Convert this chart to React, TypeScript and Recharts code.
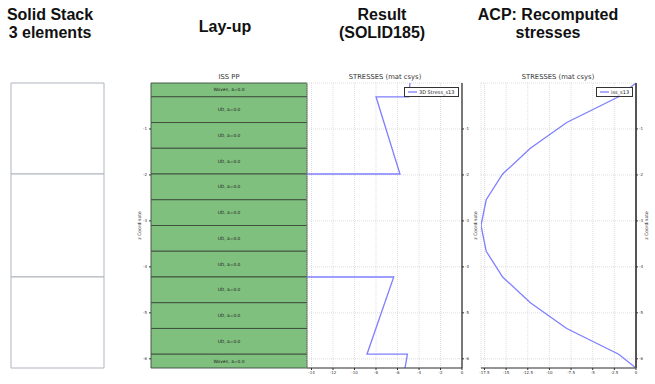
import React from 'react';
import { BarChart, Bar, LineChart, Line, XAxis, YAxis, CartesianGrid, Legend, LabelList } from 'recharts';

// lay-up of the solid stack, top to bottom
const layerNames = [
  'Woven, a=0.0',
  'UD, a=0.0', 'UD, a=0.0', 'UD, a=0.0', 'UD, a=0.0', 'UD, a=0.0',
  'UD, a=0.0', 'UD, a=0.0', 'UD, a=0.0', 'UD, a=0.0', 'UD, a=0.0',
  'Woven, a=0.0',
];
const layerThickness = [0.3, 0.56, 0.56, 0.56, 0.56, 0.56, 0.56, 0.56, 0.56, 0.56, 0.56, 0.3];
const elementThickness = [1.98, 2.24, 1.98];

const zTicks = [-6, -5, -4, -3, -2, -1];
const zDomain = [-6.2, 0];

// SOLID185 result, s13 along z
const solidZ = [0, -0.3, -0.3, -1.98, -1.98, -3.1, -4.22, -4.22, -5.9, -5.9, -6.2];
const solidS13 = [-4.84, -4.95, -8.0, -5.77, -16.8, -18.2, -16.8, -6.35, -8.84, -5.08, -5.3];
const solidTicks = [-14, -12, -10, -8, -6, -4, -2, 0];
const solidDomain = [-14.42, 0];

// ACP recomputed s13 along z
const acpZ = [0, -0.3, -0.86, -1.42, -1.98, -2.54, -3.1, -3.66, -4.22, -4.78, -5.34, -5.9, -6.2];
const acpS13 = [0, -2.0, -8.0, -12.2, -15.4, -17.3, -17.9, -17.3, -15.4, -12.2, -8.0, -2.0, 0];
const acpTicks = [-17.5, -15, -12.5, -10, -7.5, -5, -2.5, 0];
const acpDomain = [-17.9, 0];

const layupRow: Record<string, number | string> = { name: 'layup' };
layerThickness.forEach((t, i) => { layupRow[`l${i}`] = -t; });
const elementRow: Record<string, number | string> = { name: 'elements' };
elementThickness.forEach((t, i) => { elementRow[`e${i}`] = -t; });

const solidData = solidZ.map((z, i) => ({ z, s: solidS13[i] }));
const acpData = acpZ.map((z, i) => ({ z, s: acpS13[i] }));

const LINE = '#7f7fff';
const small = { fontSize: 4, fill: '#333', fontFamily: 'DejaVu Sans' };
const axisTitle = { fontSize: 4.5, fill: '#333', fontFamily: 'DejaVu Sans', textAnchor: 'middle' as const };

const Heading = ({ lines, center, top }: { lines: string[]; center: number; top: number }) => (
  <div style={{
    position: 'absolute', left: center - 100, top, width: 200, textAlign: 'center',
    fontFamily: '"Liberation Sans", Arial, sans-serif', fontWeight: 'bold', fontSize: 16, lineHeight: '18px', color: '#111',
  }}>
    {lines.map(l => <div key={l}>{l}</div>)}
  </div>
);

const PlotTitle = ({ text, center }: { text: string; center: number }) => (
  <div style={{
    position: 'absolute', left: center - 60, top: 72, width: 120, textAlign: 'center',
    fontFamily: '"DejaVu Sans", sans-serif', fontSize: 6.8, lineHeight: '10px', color: '#333',
  }}>{text}</div>
);

const LegendBox = (props: any) => {
  const item = props.payload && props.payload[0];
  return (
    <div style={{
      width: props.boxWidth, height: 10, boxSizing: 'border-box', border: '1px solid #333', background: '#fff',
      display: 'flex', alignItems: 'center', fontFamily: '"DejaVu Sans", sans-serif', fontSize: 5, color: '#222',
    }}>
      <svg width={14} height={4}><line x1={3} x2={12} y1={2} y2={2} stroke={LINE} strokeWidth={1.3} /></svg>
      <span>{item ? item.value : ''}</span>
    </div>
  );
};

type StressProps = {
  data: { z: number; s: number }[];
  name: string;
  domain: number[];
  ticks: number[];
  left: number;
  width: number;
  margin: { top: number; right: number; bottom: number; left: number };
  yWidth: number;
  labelOffset: number;
  legendLeft: number;
  legendWidth: number;
  rightStroke: string;
  rightWidth: number;
  showLeft: boolean;
};

const StressChart = (p: StressProps) => (
  <div style={{ position: 'absolute', left: p.left, top: 60 }}>
    <LineChart width={p.width} height={320} data={p.data} layout="vertical" margin={p.margin}>
      <CartesianGrid stroke="#d0d0d0" strokeDasharray="1 1" strokeWidth={0.7} />
      <XAxis type="number" domain={p.domain} ticks={p.ticks} interval={0} allowDataOverflow height={12}
        tickSize={2} tickMargin={1} tick={small} axisLine={{ stroke: '#333' }} tickLine={{ stroke: '#333' }} />
      <XAxis xAxisId="top" orientation="top" type="number" domain={p.domain} height={0}
        tick={false} tickLine={false} axisLine={{ stroke: '#999' }} />
      {p.showLeft && (
        <YAxis yAxisId="left" orientation="left" type="number" domain={zDomain} width={0}
          tick={false} tickLine={false} axisLine={{ stroke: '#ccc' }} />
      )}
      <YAxis type="number" dataKey="z" orientation="right" domain={zDomain} ticks={zTicks} interval={0} reversed
        allowDataOverflow width={p.yWidth} tickSize={2} tickMargin={1} tick={small}
        axisLine={{ stroke: p.rightStroke, strokeWidth: p.rightWidth }} tickLine={{ stroke: '#333' }}
        label={{ value: 'z Coordinate', angle: -90, position: 'insideRight', offset: p.labelOffset, fill: '#333', style: axisTitle }} />
      <Line dataKey="s" name={p.name} stroke={LINE} strokeWidth={1.3} dot={false} activeDot={false} isAnimationActive={false} />
      <Legend layout="horizontal" verticalAlign="middle" align="center"
        wrapperStyle={{ left: p.legendLeft - p.left, top: 27, width: 'auto', height: 'auto' }}
        content={(props: any) => <LegendBox {...props} boxWidth={p.legendWidth} />} />
    </LineChart>
  </div>
);

export default function App() {
  return (
    <div style={{ position: 'absolute', left: 0, top: 0, width: 655, height: 384, background: '#fff', overflow: 'hidden' }}>
      <Heading lines={['Solid Stack', '3 elements']} center={50} top={6} />
      <Heading lines={['Lay-up']} center={225} top={18} />
      <Heading lines={['Result', '(SOLID185)']} center={382} top={6} />
      <Heading lines={['ACP: Recomputed', 'stresses']} center={548} top={6} />

      {/* solid stack with 3 elements */}
      <div style={{ position: 'absolute', left: 0, top: 60 }}>
        <BarChart width={120} height={320} data={[elementRow]} barCategoryGap={0}
          margin={{ top: 23, right: 16, bottom: 12, left: 11 }}>
          <XAxis dataKey="name" hide />
          <YAxis type="number" domain={zDomain} hide />
          {elementThickness.map((_, i) => (
            <Bar key={i} dataKey={`e${i}`} stackId="e" fill="#fff" stroke="#aeb4bc" strokeWidth={1} isAnimationActive={false} />
          ))}
        </BarChart>
      </div>

      {/* lay-up */}
      <PlotTitle text="ISS PP" center={229} />
      <div style={{ position: 'absolute', left: 120, top: 60 }}>
        <BarChart width={200} height={320} data={[layupRow]} barCategoryGap={0}
          margin={{ top: 23, right: 13, bottom: 12, left: 11 }}>
          <XAxis dataKey="name" hide />
          <YAxis type="number" domain={zDomain} ticks={zTicks} interval={0} width={20}
            tickSize={2} tickMargin={2} tick={small} axisLine={false} tickLine={{ stroke: '#333' }}
            label={{ value: 'z Coordinate', angle: -90, position: 'insideLeft', offset: 8, fill: '#333', style: axisTitle }} />
          {layerNames.map((n, i) => (
            <Bar key={i} dataKey={`l${i}`} stackId="l" fill="#80c07f" stroke="#3b4a3b" strokeWidth={0.9} isAnimationActive={false}>
              <LabelList position="center" formatter={() => n} style={{ fontSize: 4.4, fill: '#222', fontFamily: 'DejaVu Sans' }} />
            </Bar>
          ))}
        </BarChart>
      </div>

      <PlotTitle text="STRESSES (mat csys)" center={385} />
      <StressChart data={solidData} name="3D Stress_s13" domain={solidDomain} ticks={solidTicks}
        left={300} width={185} margin={{ top: 23, right: 3, bottom: 0, left: 7 }} yWidth={20} labelOffset={7}
        legendLeft={404} legendWidth={55} rightStroke="#333" rightWidth={1.3} showLeft={false} />

      <PlotTitle text="STRESSES (mat csys)" center={558} />
      <StressChart data={acpData} name="iss_s13" domain={acpDomain} ticks={acpTicks}
        left={475} width={180} margin={{ top: 23, right: 1, bottom: 0, left: 6 }} yWidth={18} labelOffset={8}
        legendLeft={596} legendWidth={37} rightStroke="#555" rightWidth={2} showLeft={true} />
    </div>
  );
}
